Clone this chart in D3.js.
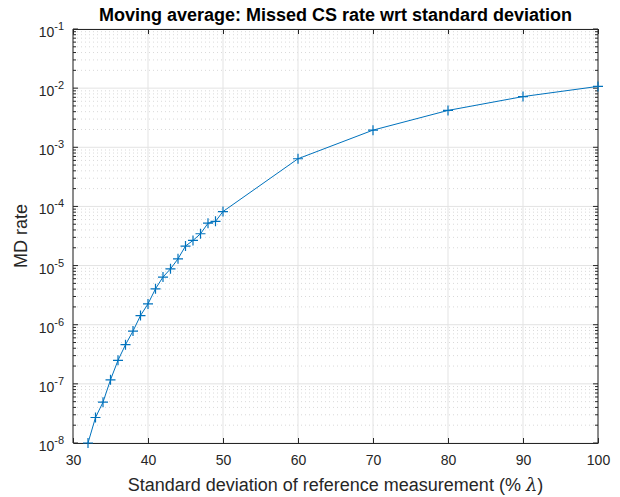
<!DOCTYPE html>
<html>
<head>
<meta charset="utf-8">
<script src="https://cdn.jsdelivr.net/npm/d3@7"></script>
<style>
  body { margin: 0; background: #fff; }
  text { font-family: "Liberation Sans", Arial, sans-serif; fill: #262626; }
</style>
</head>
<body>
<svg width="620" height="497"></svg>
<script>
"use strict";

var stdDev = [32, 33, 34, 35, 36, 37, 38, 39, 40, 41, 42, 43, 44, 45, 46, 47, 48, 49, 50, 60, 70, 80, 90, 100];
var mdRate = [1.0e-8, 2.7e-8, 4.9e-8, 1.17e-7, 2.5e-7, 4.6e-7, 7.8e-7, 1.43e-6, 2.25e-6, 4.05e-6,
              6.4e-6, 8.8e-6, 1.3e-5, 2.14e-5, 2.66e-5, 3.45e-5, 5.2e-5, 5.6e-5, 8.2e-5,
              6.4e-4, 1.95e-3, 4.2e-3, 7.2e-3, 1.07e-2];
var xTicks = [30, 40, 50, 60, 70, 80, 90, 100];
var yExponents = [-8, -7, -6, -5, -4, -3, -2, -1];

var pLeft = 73, pRight = 598, pTop = 29, pBottom = 443;

var svg = d3.select('svg');

var x = d3.scaleLinear()
    .domain([30, 100])
    .range([pLeft, pRight]);

var y = d3.scaleLog()
    .domain([1e-8, 1e-1])
    .range([pBottom, pTop]);

// minor y values (2..9 x 10^e)
var minorY = [];
yExponents.slice(0, -1).forEach(function (e) {
    for (var k = 2; k <= 9; k++) minorY.push(k * Math.pow(10, e));
});

var grid = svg.append('g');

grid.selectAll('line.minor')
    .data(minorY)
    .enter()
    .append('line')
    .attr('x1', pLeft).attr('x2', pRight)
    .attr('y1', function (d) { return y(d); })
    .attr('y2', function (d) { return y(d); })
    .attr('stroke', '#d9d9d9')
    .attr('stroke-width', 1)
    .attr('stroke-dasharray', '1,3');

grid.selectAll('line.hmajor')
    .data(yExponents.map(function (e) { return Math.pow(10, e); }))
    .enter()
    .append('line')
    .attr('x1', pLeft).attr('x2', pRight)
    .attr('y1', function (d) { return y(d); })
    .attr('y2', function (d) { return y(d); })
    .attr('stroke', '#e3e3e3');

grid.selectAll('line.vmajor')
    .data(xTicks)
    .enter()
    .append('line')
    .attr('y1', pTop).attr('y2', pBottom)
    .attr('x1', function (d) { return x(d); })
    .attr('x2', function (d) { return x(d); })
    .attr('stroke', '#e3e3e3');

// axes box with inward ticks
var axisColor = '#262626';

svg.append('g')
    .attr('transform', 'translate(0,' + pBottom + ')')
    .call(d3.axisBottom(x).tickValues(xTicks).tickSizeInner(-5).tickSizeOuter(0).tickPadding(12))
    .call(function (g) {
        g.select('.domain').attr('stroke', axisColor);
        g.selectAll('.tick line').attr('stroke', axisColor);
        g.selectAll('.tick text').attr('font-size', 14).attr('fill', axisColor)
            .attr('font-family', '"Liberation Sans", Arial, sans-serif');
    });

svg.append('g')
    .attr('transform', 'translate(0,' + pTop + ')')
    .call(d3.axisTop(x).tickValues(xTicks).tickSizeInner(-5).tickSizeOuter(0).tickFormat(''))
    .call(function (g) {
        g.select('.domain').attr('stroke', axisColor);
        g.selectAll('.tick line').attr('stroke', axisColor);
    });

[[pLeft, 1], [pRight, -1]].forEach(function (side) {
    var g = svg.append('g');
    g.append('line')
        .attr('x1', side[0]).attr('x2', side[0])
        .attr('y1', pTop).attr('y2', pBottom)
        .attr('stroke', axisColor);
    g.selectAll('line.maj')
        .data(yExponents)
        .enter()
        .append('line')
        .attr('x1', side[0]).attr('x2', side[0] + side[1] * 5)
        .attr('y1', function (e) { return y(Math.pow(10, e)); })
        .attr('y2', function (e) { return y(Math.pow(10, e)); })
        .attr('stroke', axisColor);
    g.selectAll('line.min')
        .data(minorY)
        .enter()
        .append('line')
        .attr('x1', side[0]).attr('x2', side[0] + side[1] * 3)
        .attr('y1', function (d) { return y(d); })
        .attr('y2', function (d) { return y(d); })
        .attr('stroke', axisColor);
});

// y tick labels: 10^e
var yLabels = svg.append('g')
    .selectAll('text')
    .data(yExponents)
    .enter()
    .append('text')
    .attr('x', pLeft - 9)
    .attr('y', function (e) { return y(Math.pow(10, e)) + 8; })
    .attr('text-anchor', 'end')
    .attr('font-size', 14);

yLabels.append('tspan').text('10');
yLabels.append('tspan')
    .attr('dy', -7)
    .attr('font-size', 11)
    .text(function (e) { return '-' + Math.abs(e); });

// series
var line = d3.line()
    .x(function (d) { return x(d[0]); })
    .y(function (d) { return y(d[1]); });

var pts = stdDev.map(function (d, i) { return [d, mdRate[i]]; });

svg.append('path')
    .datum(pts)
    .attr('d', line)
    .attr('fill', 'none')
    .attr('stroke', '#0072BD')
    .attr('stroke-width', 1);

svg.append('g')
    .selectAll('path')
    .data(pts)
    .enter()
    .append('path')
    .attr('transform', function (d) { return 'translate(' + x(d[0]) + ',' + y(d[1]) + ')'; })
    .attr('d', 'M-5,0H5M0,-5V5')
    .attr('stroke', '#0072BD')
    .attr('stroke-width', 1.2);

// labels
svg.append('text')
    .attr('x', (pLeft + pRight) / 2)
    .attr('y', 21)
    .attr('text-anchor', 'middle')
    .attr('font-size', 18)
    .attr('font-weight', 'bold')
    .style('fill', '#000')
    .text('Moving average: Missed CS rate wrt standard deviation');

var xl = svg.append('text')
    .attr('x', (pLeft + pRight) / 2)
    .attr('y', 491)
    .attr('text-anchor', 'middle')
    .attr('font-size', 18);
xl.append('tspan').text('Standard deviation of reference measurement (% ');
xl.append('tspan').attr('font-style', 'italic').attr('font-family', '"DejaVu Serif", serif').text('λ');
xl.append('tspan').text(')');

svg.append('text')
    .attr('transform', 'translate(27,' + (pTop + pBottom) / 2 + ') rotate(-90)')
    .attr('text-anchor', 'middle')
    .attr('font-size', 18)
    .text('MD rate');
</script>
</body>
</html>
